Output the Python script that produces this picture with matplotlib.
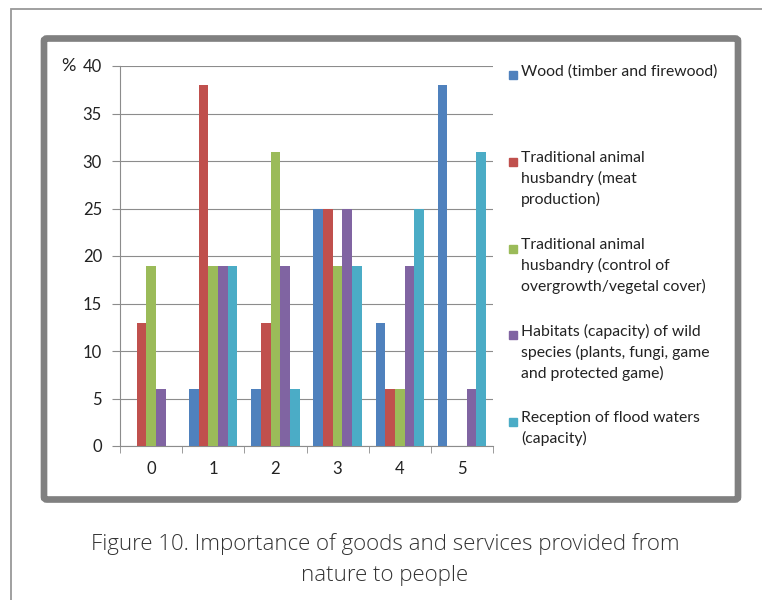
import matplotlib
matplotlib.use("Agg")
import matplotlib.pyplot as plt
from matplotlib.patches import Rectangle, FancyBboxPatch
import numpy as np

categories = ["0", "1", "2", "3", "4", "5"]
wood = [0, 6, 6, 25, 13, 38]
meat = [13, 38, 13, 25, 6, 0]
overgrowth = [19, 19, 31, 19, 6, 0]
habitats = [6, 19, 19, 25, 19, 6]
flood = [0, 19, 6, 19, 25, 31]
series_labels = [
    "Wood (timber and firewood)",
    "Traditional animal\nhusbandry (meat\nproduction)",
    "Traditional animal\nhusbandry (control of\novergrowth/vegetal cover)",
    "Habitats (capacity) of wild\nspecies (plants, fungi, game\nand protected game)",
    "Reception of flood waters\n(capacity)",
]
yticks = [0, 5, 10, 15, 20, 25, 30, 35, 40]
caption_lines = ["Figure 10. Importance of goods and services provided from",
                 "nature to people"]

colors = ["#4F81BD", "#C0504D", "#9BBB59", "#8064A2", "#4BACC6"]
series = [wood, meat, overgrowth, habitats, flood]

plt.rcParams['font.family'] = ['Lato', 'DejaVu Sans']

W, H = 762, 600
fig = plt.figure(figsize=(W / 100, H / 100), dpi=100)
fig.patch.set_facecolor("white")

def fx(px):
    return px / W

def fy(py):
    return 1 - py / H

# outer light frame
fig.add_artist(Rectangle((fx(11), fy(H + 20)), fx(W + 20), (H + 11) / H,
                         transform=fig.transFigure, fill=False,
                         edgecolor="#999999", linewidth=1.3))
# inner thick box
fig.add_artist(FancyBboxPatch((fx(44), fy(499.5)), fx(738 - 44), (499.5 - 38.5) / H,
                              boxstyle="round,pad=0,rounding_size=0.004",
                              transform=fig.transFigure, fill=False,
                              edgecolor="#808080", linewidth=4.8))

ax = fig.add_axes([fx(120), fy(446), fx(493 - 120), (446 - 66) / H])
x = np.arange(len(categories))
bw = 0.156
for i, (vals, c) in enumerate(zip(series, colors)):
    ax.bar(x + (i - 2) * bw, vals, width=bw, color=c, zorder=3)

ax.set_xlim(-0.5, len(categories) - 0.5)
ax.set_ylim(0, 40)
ax.set_yticks(yticks)
ax.set_yticklabels([str(t) for t in yticks])
ax.yaxis.grid(True, color="#8c8c8c", linewidth=0.8, zorder=0)
ax.set_xticks(x)
ax.set_xticklabels(categories)
ax.set_xticks(np.arange(-0.5, len(categories)), minor=True)
ax.tick_params(axis="x", which="major", length=0, pad=11, labelsize=12, labelcolor="#222222")
ax.tick_params(axis="x", which="minor", length=5, color="#8c8c8c", direction="out")
ax.tick_params(axis="y", length=6, color="#8c8c8c", pad=7, labelsize=12, labelcolor="#222222")
for s in ["top", "right"]:
    ax.spines[s].set_visible(False)
for s in ["left", "bottom"]:
    ax.spines[s].set_color("#8c8c8c")
    ax.spines[s].set_linewidth(0.8)

fig.text(fx(61), fy(66), "%", fontsize=13, color="#222222", va="center", ha="left")

# legend
leg_y = [75, 162, 249, 335, 422]
for lab, c, yy in zip(series_labels, colors, leg_y):
    fig.add_artist(Rectangle((fx(509), fy(yy + 4)), fx(8), 8 / H,
                             transform=fig.transFigure, color=c))
    fig.text(fx(521), fy(yy - 11), lab, fontsize=11.3, color="#222222",
             va="top", ha="left", linespacing=1.5)

for line, base in zip(caption_lines, [550, 581]):
    fig.text(fx(385), fy(base), line, fontsize=16, color="#333333", ha="center",
             va="baseline", family=["Open Sans", "DejaVu Sans"],
             fontweight="light")

fig.savefig("out.png", dpi=100)
